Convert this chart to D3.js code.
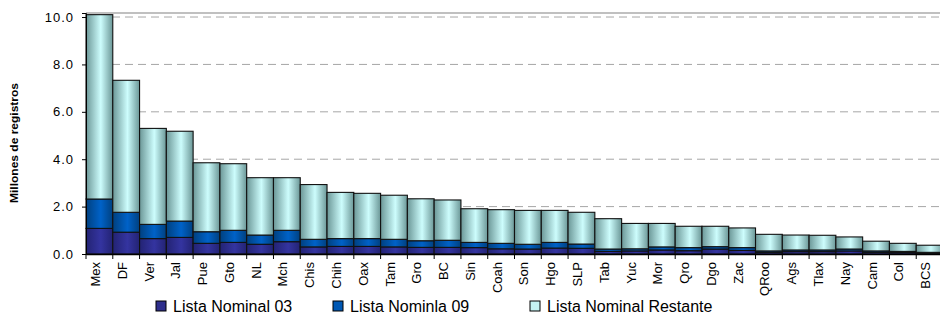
<!DOCTYPE html>
<html>
<head>
<meta charset="utf-8">
<script src="https://cdn.jsdelivr.net/npm/d3@7"></script>
<style>
  body { margin: 0; background: #fff; }
  text { font-family: "Liberation Sans", Arial, sans-serif; }
</style>
</head>
<body>
<div id="myChart"></div>
<script>
// data (millions of records)
let estados = ["Mex","DF","Ver","Jal","Pue","Gto","NL","Mch","Chis","Chih","Oax","Tam","Gro","BC","Sin","Coah","Son","Hgo","SLP","Tab","Yuc","Mor","Qro","Dgo","Zac","QRoo","Ags","Tlax","Nay","Cam","Col","BCS"];
let lista03 = [1.08,0.92,0.65,0.70,0.45,0.49,0.41,0.52,0.30,0.32,0.32,0.30,0.28,0.28,0.27,0.22,0.21,0.25,0.24,0.11,0.13,0.17,0.14,0.21,0.15,0.07,0.10,0.10,0.13,0.07,0.06,0.04];
let lista09 = [1.24,0.84,0.60,0.69,0.49,0.51,0.39,0.48,0.32,0.33,0.33,0.32,0.28,0.30,0.22,0.23,0.20,0.24,0.18,0.10,0.09,0.13,0.13,0.10,0.12,0.06,0.07,0.07,0.08,0.06,0.05,0.03];
let total = [10.1,7.33,5.30,5.18,3.85,3.81,3.22,3.22,2.93,2.60,2.56,2.48,2.33,2.28,1.91,1.87,1.84,1.84,1.76,1.49,1.29,1.29,1.17,1.17,1.10,0.83,0.80,0.79,0.72,0.54,0.45,0.37];
let yTicks = [0, 2, 4, 6, 8, 10];
let series = ["Lista Nominal 03", "Lista Nominla 09", "Lista Nominal Restante"];

let margin = { top: 13, right: -3, bottom: 64, left: 86 },
    width = 940 - margin.left - margin.right,
    height = 318 - margin.top - margin.bottom;

let svg = d3.select("#myChart").append("svg")
  .attr("width", 940)
  .attr("height", 318);

let defs = svg.append("defs");
function grad(id, edge, mid) {
  let g = defs.append("linearGradient").attr("id", id)
    .attr("x1", "0%").attr("x2", "100%").attr("y1", "0%").attr("y2", "0%");
  g.append("stop").attr("offset", "0%").attr("stop-color", edge);
  g.append("stop").attr("offset", "55%").attr("stop-color", mid);
  g.append("stop").attr("offset", "100%").attr("stop-color", edge);
}
grad("g0", "#232373", "#3434a0");
grad("g1", "#00407f", "#0062c8");
grad("g2", "#6b9797", "#cdfdfd");
let fills = ["url(#g0)", "url(#g1)", "url(#g2)"];
let swatch = ["#2e2e8c", "#0058b4", "#c5f3f3"];

let chart = svg.append("g")
  .attr("transform", "translate(" + margin.left + "," + margin.top + ")");

let x = d3.scaleBand().domain(estados).range([0, width]).padding(0);
let y = d3.scaleLinear().domain([0, 10.17]).range([height, 0]);

// gridlines
chart.append("g")
  .selectAll("line")
  .data(yTicks.filter(d => d > 0))
  .enter().append("line")
  .attr("x1", 0).attr("x2", width)
  .attr("y1", d => y(d)).attr("y2", d => y(d))
  .attr("stroke", "#a6a6a6")
  .attr("stroke-dasharray", "8,5");

chart.append("line")
  .attr("x1", 0).attr("x2", width)
  .attr("y1", 0).attr("y2", 0)
  .attr("stroke", "#c0c0c0").attr("stroke-width", 2);

// stacked segments
let rows = estados.map((e, i) => ({
  name: e,
  vals: [lista03[i], lista09[i], total[i] - lista03[i] - lista09[i]]
}));
let stack = d3.stack().keys([0, 1, 2]).value((d, k) => d.vals[k]);
let layers = stack(rows);

chart.selectAll(".layer")
  .data(layers)
  .enter().append("g")
  .attr("class", "layer")
  .attr("fill", (d, i) => fills[i])
  .selectAll("rect")
  .data(d => d)
  .enter().append("rect")
  .attr("x", d => x(d.data.name))
  .attr("width", x.bandwidth())
  .attr("y", d => y(d[1]))
  .attr("height", d => y(d[0]) - y(d[1]))
  .attr("stroke", "#111")
  .attr("stroke-width", 1.1);

// axes
let yAxis = chart.append("g")
  .call(d3.axisLeft(y).tickValues(yTicks).tickFormat(d3.format(".1f")).tickSize(4).tickPadding(8));
yAxis.selectAll("text")
  .attr("font-size", 13)
  .attr("letter-spacing", "1px")
  .attr("fill", "#000")
  .attr("font-family", "Liberation Sans, Arial");
yAxis.select(".domain").attr("stroke", "#000");

let xAxis = chart.append("g")
  .attr("transform", "translate(0," + height + ")")
  .call(d3.axisBottom(x).tickSize(0).tickSizeOuter(0));
xAxis.select(".domain").attr("stroke", "#000").attr("stroke-width", 1.5);
xAxis.selectAll("text")
  .attr("font-size", 13)
  .attr("fill", "#000")
  .attr("font-family", "Liberation Sans, Arial")
  .attr("text-anchor", "end")
  .attr("transform", "rotate(-90)")
  .attr("x", -8).attr("y", -4).attr("dy", "0.35em");

// boundary ticks between bars
chart.append("g")
  .selectAll("line")
  .data(estados)
  .enter().append("line")
  .attr("x1", d => x(d)).attr("x2", d => x(d))
  .attr("y1", height).attr("y2", height + 5)
  .attr("stroke", "#000");

// y title
svg.append("text")
  .attr("transform", "translate(18,143) rotate(-90)")
  .attr("text-anchor", "middle")
  .attr("font-size", 11)
  .attr("font-weight", "bold")
  .attr("textLength", 120)
  .attr("lengthAdjust", "spacingAndGlyphs")
  .text("Millones de registros");

// legend
let legX = [156, 333, 530];
let leg = svg.append("g").selectAll("g")
  .data(series)
  .enter().append("g")
  .attr("transform", (d, i) => "translate(" + legX[i] + ",301)");
leg.append("rect")
  .attr("width", 10).attr("height", 10)
  .attr("fill", (d, i) => swatch[i])
  .attr("stroke", "#000");
leg.append("text")
  .attr("x", 17).attr("y", 10.5)
  .attr("font-size", 16)
  .text(d => d);
</script>
</body>
</html>
